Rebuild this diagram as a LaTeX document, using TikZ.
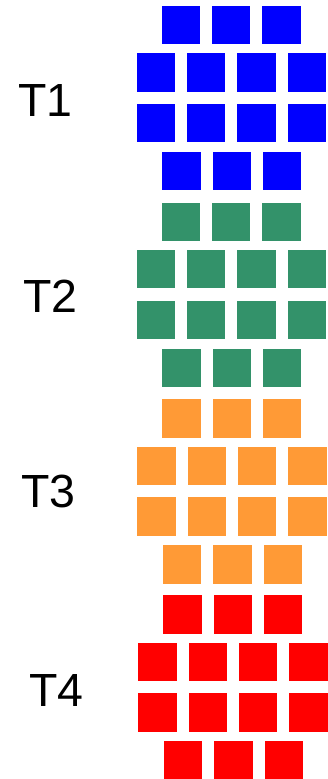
\documentclass[tikz,border=0pt]{standalone}
\usepackage{fontspec}
\setmainfont{Liberation Sans}
\definecolor{cblue}{RGB}{0,0,255}
\definecolor{cgreen}{RGB}{51,146,106}
\definecolor{corange}{RGB}{255,154,54}
\definecolor{cred}{RGB}{255,0,0}
\tikzset{
  sq/.style={rectangle, inner sep=0pt, outer sep=0pt, minimum width=38.4pt, minimum height=38.4pt, anchor=north west, fill=#1},
  lbl/.style={anchor=base, inner sep=0pt, font=\fontsize{46.5pt}{50pt}\selectfont}
}
\begin{document}
\begin{tikzpicture}[x=1pt,y=-1pt]
\useasboundingbox (0,0) rectangle (327,779);
\foreach \g/\gy/\dx/\col in {1/6/0/cblue, 2/202.7/0/cgreen, 3/399.3/0.6/corange, 4/595.3/1.6/cred}{
  % row 1 (3 squares)
  \foreach \c in {1,2,3}{
    \node[sq=\col] (g\g r1c\c) at ({161.7+\dx+(\c-1)*50.3},{\gy}) {};
  }
  % rows 2 and 3 (4 squares)
  \foreach \c in {1,2,3,4}{
    \node[sq=\col] (g\g r2c\c) at ({136.7+\dx+(\c-1)*50.3},{\gy+47.3}) {};
    \node[sq=\col] (g\g r3c\c) at ({136.7+\dx+(\c-1)*50.3},{\gy+98}) {};
  }
  % row 4 (3 squares)
  \foreach \c in {1,2,3}{
    \node[sq=\col] (g\g r4c\c) at ({162.3+\dx+(\c-1)*50.3},{\gy+146}) {};
  }
}
\node[lbl] (t1) at (45.3,116) {T1};
\node[lbl] (t2) at (50.3,312.3) {T2};
\node[lbl] (t3) at (48.3,507.8) {T3};
\node[lbl] (t4) at (56.7,706.7) {T4};
\end{tikzpicture}
\end{document}
